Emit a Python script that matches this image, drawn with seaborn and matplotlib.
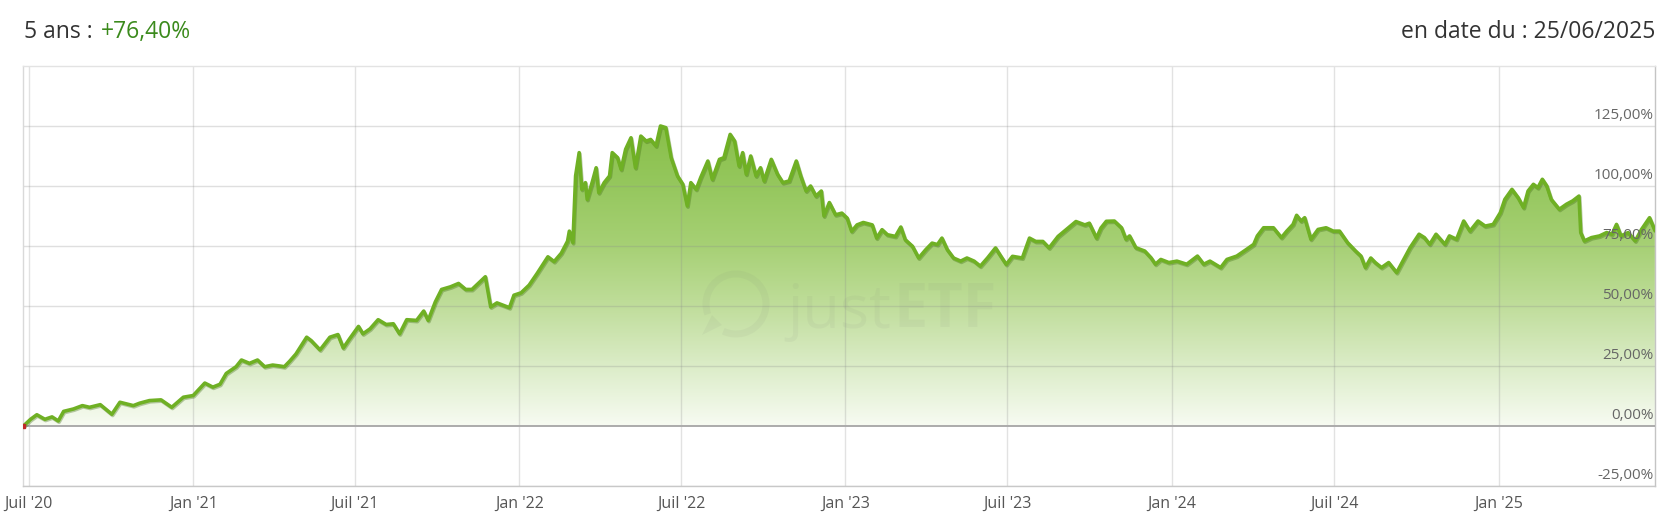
import matplotlib
matplotlib.use("Agg")
import matplotlib.pyplot as plt
import matplotlib.dates as mdates
import matplotlib.patheffects as pe
from matplotlib.colors import LinearSegmentedColormap
from matplotlib.patches import Arc, Polygon
import numpy as np
import pandas as pd
import seaborn as sns

# performance (%), roughly every one to two weeks
dates = [
    "2020-06-25", "2020-07-03", "2020-07-10", "2020-07-19", "2020-07-27", "2020-08-03", "2020-08-09",
    "2020-08-20", "2020-08-30", "2020-09-07", "2020-09-19", "2020-10-02", "2020-10-11", "2020-10-26",
    "2020-11-02", "2020-11-13", "2020-11-26", "2020-12-08", "2020-12-21",
    "2021-01-01", "2021-01-14", "2021-01-23", "2021-01-31", "2021-02-07", "2021-02-18", "2021-02-24",
    "2021-03-05", "2021-03-14", "2021-03-22", "2021-03-31", "2021-04-08", "2021-04-13", "2021-04-19",
    "2021-04-26", "2021-05-08", "2021-05-13", "2021-05-23", "2021-06-03", "2021-06-12", "2021-06-18",
    "2021-06-25", "2021-07-05", "2021-07-10", "2021-07-18", "2021-07-27", "2021-08-05", "2021-08-13",
    "2021-08-20", "2021-08-28", "2021-09-08", "2021-09-16", "2021-09-21", "2021-09-29", "2021-10-06",
    "2021-10-16", "2021-10-25", "2021-11-02", "2021-11-09", "2021-11-17", "2021-11-24", "2021-11-30",
    "2021-12-07", "2021-12-21", "2021-12-26",
    "2022-01-03", "2022-01-12", "2022-01-21", "2022-02-02", "2022-02-09", "2022-02-17", "2022-02-24",
    "2022-02-26", "2022-03-02", "2022-03-05", "2022-03-09", "2022-03-12", "2022-03-16", "2022-03-18",
    "2022-03-24", "2022-03-28", "2022-03-31", "2022-04-06", "2022-04-12", "2022-04-15", "2022-04-21",
    "2022-04-25", "2022-04-30", "2022-05-06", "2022-05-11", "2022-05-17", "2022-05-23", "2022-05-28",
    "2022-06-03", "2022-06-08", "2022-06-14", "2022-06-20", "2022-06-27", "2022-07-03", "2022-07-08",
    "2022-07-12", "2022-07-18", "2022-07-23", "2022-07-31", "2022-08-05", "2022-08-13", "2022-08-18",
    "2022-08-25", "2022-08-30", "2022-09-04", "2022-09-08", "2022-09-12", "2022-09-17", "2022-09-23",
    "2022-09-28", "2022-10-02", "2022-10-10", "2022-10-17", "2022-10-23", "2022-10-30", "2022-11-07",
    "2022-11-12", "2022-11-18", "2022-11-23", "2022-11-29", "2022-12-05", "2022-12-08", "2022-12-14",
    "2022-12-21", "2022-12-28",
    "2023-01-03", "2023-01-08", "2023-01-14", "2023-01-21", "2023-01-31", "2023-02-05", "2023-02-11",
    "2023-02-17", "2023-02-26", "2023-03-04", "2023-03-09", "2023-03-17", "2023-03-24", "2023-04-01",
    "2023-04-08", "2023-04-14", "2023-04-19", "2023-04-25", "2023-05-02", "2023-05-10", "2023-05-17",
    "2023-05-25", "2023-06-01", "2023-06-09", "2023-06-18", "2023-06-24", "2023-06-30", "2023-07-07",
    "2023-07-18", "2023-07-26", "2023-08-02", "2023-08-10", "2023-08-17", "2023-08-27", "2023-09-05",
    "2023-09-16", "2023-09-26", "2023-10-01", "2023-10-09", "2023-10-14", "2023-10-20", "2023-10-29",
    "2023-11-06", "2023-11-11", "2023-11-15", "2023-11-22", "2023-12-02", "2023-12-09", "2023-12-14",
    "2023-12-20", "2023-12-29",
    "2024-01-07", "2024-01-18", "2024-01-30", "2024-02-06", "2024-02-13", "2024-02-25", "2024-03-03",
    "2024-03-14", "2024-03-25", "2024-04-02", "2024-04-06", "2024-04-13", "2024-04-24", "2024-05-03",
    "2024-05-09", "2024-05-16", "2024-05-20", "2024-05-25", "2024-05-29", "2024-06-05", "2024-06-13",
    "2024-06-22", "2024-06-30", "2024-07-07", "2024-07-16", "2024-07-25", "2024-07-31", "2024-08-05",
    "2024-08-11", "2024-08-16", "2024-08-23", "2024-08-31", "2024-09-09", "2024-09-15", "2024-09-24",
    "2024-10-04", "2024-10-10", "2024-10-16", "2024-10-23", "2024-11-02", "2024-11-07", "2024-11-15",
    "2024-11-23", "2024-11-30", "2024-12-09", "2024-12-17", "2024-12-26",
    "2025-01-03", "2025-01-08", "2025-01-16", "2025-01-23", "2025-01-29", "2025-02-03", "2025-02-09",
    "2025-02-14", "2025-02-19", "2025-02-24", "2025-03-01", "2025-03-10", "2025-03-18", "2025-03-25",
    "2025-04-01", "2025-04-03", "2025-04-07", "2025-04-15", "2025-04-24", "2025-05-02", "2025-05-08",
    "2025-05-13", "2025-05-18", "2025-05-26", "2025-06-03", "2025-06-10", "2025-06-19", "2025-06-25",
]
perf = [
    0.0, 2.8, 4.7, 2.8, 3.8, 2.1, 6.1,
    7.1, 8.5, 7.8, 8.9, 4.9, 9.9, 8.5,
    9.5, 10.6, 10.9, 7.8, 12.0,
    12.7, 17.9, 16.2, 17.4, 21.9, 24.7, 27.5,
    26.1, 27.5, 24.7, 25.4, 25.0, 24.7, 27.0,
    30.0, 37.0, 35.6, 31.7, 37.0, 38.1, 32.5,
    36.3, 41.5, 38.4, 40.5, 44.3, 42.3, 42.6,
    38.4, 44.3, 44.0, 47.9, 44.0, 51.7, 56.9,
    58.0, 59.4, 56.9, 56.9, 59.7, 62.2, 49.6,
    51.3, 49.3, 54.5,
    55.5, 58.7, 63.6, 70.5, 68.5, 72.0, 77.0,
    81.2, 76.4, 104.2, 113.9, 98.6, 101.4, 94.4,
    102.1, 107.6, 97.2, 101.4, 104.2, 113.9, 111.8,
    106.9, 115.3, 120.1, 107.6, 120.8, 118.7, 119.4,
    116.7, 125.0, 124.3, 111.8, 104.2, 100.7, 91.7,
    101.4, 98.6, 103.5, 110.4, 102.8, 111.1, 111.8,
    121.5, 118.7, 108.3, 113.9, 104.9, 112.5, 104.2,
    107.6, 102.1, 111.1, 104.9, 101.4, 102.1, 110.4,
    104.2, 97.9, 100.0, 95.8, 97.9, 87.5, 93.1,
    88.0, 88.7,
    86.6, 81.1, 83.8, 84.8, 83.8, 78.3, 81.8,
    79.7, 79.0, 82.9, 77.6, 74.9, 70.0, 73.5,
    76.2, 75.6, 78.3, 73.5, 70.0, 68.7, 70.0,
    68.7, 66.6, 70.0, 74.2, 70.7, 67.3, 70.7,
    70.0, 78.3, 76.9, 76.9, 74.2, 79.0, 81.8,
    85.2, 83.8, 84.5, 78.3, 82.5, 85.3, 85.4,
    82.6, 77.8, 79.2, 74.3, 72.9, 70.1, 67.4,
    69.4, 68.1,
    68.7, 67.4, 70.8, 67.4, 68.7, 66.0, 69.4,
    70.8, 73.6, 75.7, 79.2, 82.6, 82.6, 78.5,
    81.2, 84.0, 87.8, 85.4, 86.8, 77.8, 81.9,
    82.6, 81.2, 81.2, 76.4, 72.9, 70.8, 66.0,
    70.0, 68.1, 66.0, 68.1, 63.9, 68.1, 74.3,
    79.9, 78.5, 75.7, 79.9, 75.7, 79.2, 77.8,
    85.4, 81.2, 85.4, 83.3, 84.0,
    88.9, 94.4, 98.6, 95.1, 91.0, 97.9, 100.7,
    99.3, 102.8, 100.0, 94.4, 90.3, 92.4, 93.8,
    95.8, 80.6, 77.1, 78.5, 79.2, 80.6, 79.9,
    84.0, 79.2, 80.6, 77.1, 81.9, 86.8, 81.5,
]

tick_dates = ["2020-07-01", "2021-01-01", "2021-07-01", "2022-01-01", "2022-07-01",
              "2023-01-01", "2023-07-01", "2024-01-01", "2024-07-01", "2025-01-01"]
tick_labels = ["Juil '20", "Jan '21", "Juil '21", "Jan '22", "Juil '22",
               "Jan '23", "Juil '23", "Jan '24", "Juil '24", "Jan '25"]
y_levels = [-25, 0, 25, 50, 75, 100, 125]

title_left = "5 ans :"
title_perf = "+76,40%"
title_right = "en date du : 25/06/2025"

LINE_GREEN = "#6fb024"
TEXT_DARK = "#333333"
TEXT_GREY = "#555555"


def main():
    sns.set_theme(style="white")
    plt.rcParams["font.family"] = ["Open Sans", "DejaVu Sans"]

    x = pd.to_datetime(dates)
    df = pd.DataFrame({"date": x, "perf": perf})

    fig = plt.figure(figsize=(16.74, 5.28), dpi=100)
    ax = fig.add_axes([0.014, 0.0795, 0.9746, 0.7955])

    xnum = mdates.date2num(x)
    x0, x1 = xnum[0], xnum[-1]

    # gradient fill under the curve
    cmap = LinearSegmentedColormap.from_list(
        "fill",
        [(0.0, "#f7fbf2"), (0.2, "#dbecc7"), (0.4, "#bfdd9a"), (0.6, "#a6d074"),
         (0.8, "#95c75d"), (1.0, "#88bf48")],
    )
    grad = np.linspace(0, 1, 256).reshape(-1, 1)
    im = ax.imshow(grad, extent=[x0, x1, 0, 126], origin="lower", aspect="auto",
                   cmap=cmap, zorder=1, interpolation="bicubic")
    verts = np.column_stack([np.r_[x0, xnum, x1], np.r_[0, perf, 0]])
    clip = Polygon(verts, closed=True, transform=ax.transData,
                   facecolor="none", edgecolor="none")
    ax.add_patch(clip)
    im.set_clip_path(clip)

    sns.lineplot(data=df, x="date", y="perf", ax=ax, color=LINE_GREEN,
                 linewidth=2.6, zorder=4)
    ax.lines[-1].set_path_effects([
        pe.SimpleLineShadow(offset=(0.6, -0.9), shadow_color="#3f6d12", alpha=0.35),
        pe.Normal(),
    ])
    ax.plot([x[0]], [0], marker="s", markersize=3.5, color="#c0282a", zorder=5)

    ax.set_xlim(x0, x1)
    ax.set_ylim(-25, 150)

    # grid
    for t in pd.to_datetime(tick_dates):
        ax.axvline(t, color=(0.55, 0.55, 0.55, 0.25), linewidth=1, zorder=2)
    for v in y_levels:
        if v == 0:
            ax.axhline(v, color="#ababab", linewidth=1.4, zorder=3)
        else:
            ax.axhline(v, color=(0.55, 0.55, 0.55, 0.27), linewidth=1, zorder=2)

    ax.set_xticks(pd.to_datetime(tick_dates))
    ax.set_xticklabels(tick_labels)
    ax.tick_params(axis="x", length=0, pad=7, labelsize=11.5, labelcolor=TEXT_GREY)
    ax.set_yticks([])
    ax.set_xlabel("")
    ax.set_ylabel("")

    for v in y_levels:
        lab = f"{v:.2f}".replace(".", ",") + "%"
        ax.annotate(lab, xy=(1, v), xycoords=("axes fraction", "data"),
                    xytext=(-1, 2), textcoords="offset points",
                    ha="right", va="bottom", fontsize=11, color="#666666", zorder=6)

    for side, col in [("left", "#d9d9d9"), ("right", "#c4c4c4"),
                      ("bottom", "#c8c8c8"), ("top", "#e3e3e3")]:
        ax.spines[side].set_visible(True)
        ax.spines[side].set_color(col)
        ax.spines[side].set_linewidth(1)

    # faint watermark
    wm = (0.45, 0.45, 0.45, 0.065)
    fig.add_artist(Arc((7.36, 2.24), 0.6, 0.6, theta1=245, theta2=200,
                       transform=fig.dpi_scale_trans, color=wm, linewidth=5))
    fig.add_artist(Polygon([[7.02, 1.93], [7.22, 2.03], [7.12, 2.13]], closed=True,
                           transform=fig.dpi_scale_trans, facecolor=wm, edgecolor="none"))
    w1 = fig.text(787 / 1674, 1 - 328 / 528, "just", fontsize=44, color=wm)
    ax.annotate("ETF", xy=(1, 0), xycoords=w1, xytext=(2, 0), textcoords="offset points",
                ha="left", va="bottom", fontsize=44, fontweight="bold", color=wm,
                annotation_clip=False)

    # header
    t1 = fig.text(24 / 1674, 1 - 38 / 528, title_left, fontsize=16.5, color=TEXT_DARK,
                  va="baseline")
    ax.annotate(title_perf, xy=(1, 0), xycoords=t1, xytext=(6, 0),
                textcoords="offset points", ha="left", va="bottom",
                fontsize=16.5, color="#3b8a1c", annotation_clip=False)
    fig.text(1655 / 1674, 1 - 38 / 528, title_right, fontsize=16.5, color=TEXT_DARK,
             ha="right", va="baseline")

    fig.savefig("out.png", dpi=100)
    plt.close(fig)


if __name__ == "__main__":
    main()
